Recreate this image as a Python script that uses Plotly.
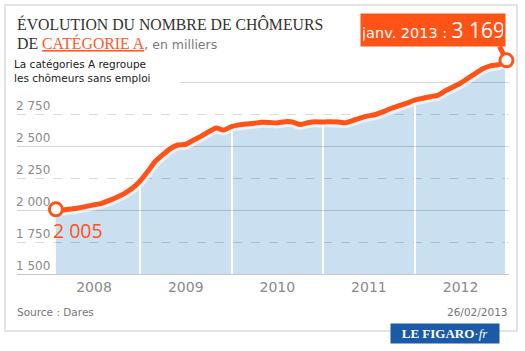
import plotly.graph_objects as go
import pandas as pd

# ---------------- data ----------------
months = pd.date_range("2008-02-01", "2013-01-01", freq="MS")
chomeurs = [2005, 2000, 2008, 2015, 2028, 2040, 2052, 2075, 2100, 2130,
            2170, 2225, 2300, 2375, 2430, 2478, 2508, 2512, 2545, 2575,
            2610, 2640, 2625, 2652, 2665, 2672, 2678, 2686, 2684, 2680,
            2690, 2688, 2668, 2682, 2690, 2687, 2690, 2688, 2682, 2700,
            2720, 2735, 2748, 2770, 2795, 2815, 2835, 2858, 2872, 2885,
            2895, 2930, 2960, 2990, 3030, 3070, 3105, 3128, 3135, 3169]
ytick_vals = [1500, 1750, 2000, 2250, 2500, 2750]
mois_fr = ["janv.", "févr.", "mars", "avr.", "mai", "juin", "juil.", "août",
           "sept.", "oct.", "nov.", "déc."]

W, H = 525, 351
ORANGE = "#ff5317"
FILL = "#cadff0"


def fmt(v):
    return f"{v:,}".replace(",", " ")


def px(x):
    return x / W


def py(y):
    return 1 - y / H


xdom = [px(17), px(509)]
ydom = [py(274), py(58)]
xrange_ = ["2007-08-30", "2013-01-11"]
yrange_ = [1500, 3187.5]

fig = go.Figure()

# area (subplot 1, bottom)
fig.add_trace(go.Scatter(x=months, y=chomeurs, mode="none", fill="tozeroy",
                         fillcolor=FILL, line=dict(shape="spline", smoothing=0.5),
                         xaxis="x", yaxis="y", hoverinfo="skip"))
# glow + line (subplot 2, on top of gridlines)
fig.add_trace(go.Scatter(x=months, y=chomeurs, mode="lines",
                         line=dict(color="rgba(255,255,255,0.6)", width=11, shape="spline", smoothing=0.5),
                         xaxis="x2", yaxis="y2", hoverinfo="skip"))
fig.add_trace(go.Scatter(x=months, y=chomeurs, mode="lines",
                         line=dict(color=ORANGE, width=5, shape="spline", smoothing=0.5),
                         xaxis="x2", yaxis="y2", hoverinfo="skip"))
fig.add_trace(go.Scatter(x=[months[0], months[-1]], y=[chomeurs[0], chomeurs[-1]],
                         mode="markers", cliponaxis=False,
                         marker=dict(size=13, color="white", line=dict(color=ORANGE, width=3)),
                         xaxis="x2", yaxis="y2", hoverinfo="skip"))

fig.update_layout(
    width=W, height=H, margin=dict(l=0, r=0, t=0, b=0),
    paper_bgcolor="white", plot_bgcolor="rgba(0,0,0,0)", showlegend=False,
    xaxis=dict(domain=xdom, range=xrange_, type="date", visible=False),
    yaxis=dict(domain=ydom, range=yrange_, visible=False),
    xaxis2=dict(domain=xdom, range=xrange_, type="date", anchor="y2",
                tick0="2008-01-01", dtick="M12", ticklabelmode="period", tickformat="%Y",
                showgrid=True, gridcolor="white", gridwidth=1.5, ticks="",
                showline=True, linecolor="#c8c8c8", linewidth=1,
                tickfont=dict(family="DejaVu Sans", size=14, color="#8a8a8a")),
    yaxis2=dict(domain=ydom, range=yrange_, anchor="x2", tick0=1500, dtick=500,
                showgrid=True, gridcolor="rgba(0,0,0,0.17)", gridwidth=1,
                showticklabels=False, zeroline=False, ticks="",
                minor=dict(tick0=1500, dtick=250, showgrid=True, griddash="dash",
                           gridcolor="rgba(0,0,0,0.14)", gridwidth=1)),
)

# frame
fig.add_shape(type="rect", xref="paper", yref="paper", x0=px(5), x1=px(517),
              y0=py(331), y1=py(5), line=dict(color="#e3e3e3", width=2), layer="below")

ann = []
# y-axis labels, placed on the y scale just above each gridline
for v in ytick_vals:
    ann.append(dict(xref="paper", yref="y2", x=px(15), y=v, xanchor="left", yanchor="bottom",
                    yshift=0, showarrow=False, text=fmt(v), borderpad=0,
                    font=dict(family="DejaVu Sans", size=12, color="#8a8a8a")))

TITLE_FONT = "Liberation Serif"
ann.append(dict(xref="paper", yref="paper", x=px(15), y=py(13), xanchor="left", yanchor="top",
                showarrow=False,
                text="ÉVOLUTION DU NOMBRE DE CHÔMEURS",
                font=dict(family=TITLE_FONT, size=15.8, color="#333333")))
ann.append(dict(xref="paper", yref="paper", x=px(15), y=py(32), xanchor="left", yanchor="top",
                showarrow=False,
                text=("DE <span style='color:#ff5a2a'><u>CATÉGORIE A</u></span>"
                      "<span style='font-family:DejaVu Sans;font-size:12.5px;color:#7a7a7a'>, en milliers</span>"),
                font=dict(family=TITLE_FONT, size=15.8, color="#333333")))
ann.append(dict(xref="paper", yref="paper", x=px(13), y=py(56), xanchor="left", yanchor="top",
                showarrow=False, align="left", bgcolor="white", width=166, height=28, borderpad=0,
                text="La catégories A regroupe<br>les chômeurs sans emploi",
                font=dict(family="DejaVu Sans", size=10.5, color="#222222")))
# start label
ann.append(dict(xref="x2", yref="y2", x=months[0], y=chomeurs[0], xanchor="left", yanchor="top",
                xshift=-5, yshift=-6, showarrow=False, text=fmt(chomeurs[0]),
                font=dict(family="Open Sans", size=19.5, color=ORANGE)))
# callout
last = months[-1]
ann.append(dict(xref="x2", yref="y2", x=last, y=chomeurs[-1], xanchor="right", yanchor="bottom",
                xshift=0, yshift=13, showarrow=False, bgcolor=ORANGE, borderpad=2,
                width=140, height=28,
                text=(f"<span style='font-family:DejaVu Sans;font-size:14.5px'>"
                      f"{mois_fr[last.month - 1]} {last.year} :</span> "
                      f"<span style='font-size:21px'>{fmt(chomeurs[-1])}</span>"),
                font=dict(family="Open Sans", size=16, color="white")))
ann.append(dict(xref="x2", yref="y2", x=last, y=chomeurs[-1], text=" ", font=dict(size=1),
                showarrow=True, arrowhead=0, arrowwidth=5, arrowcolor=ORANGE,
                ax=-8, ay=-16, standoff=7))
# footer
ann.append(dict(xref="paper", yref="paper", x=px(15), y=py(312), xanchor="left", yanchor="middle",
                showarrow=False, text="Source : Dares",
                font=dict(family="DejaVu Sans", size=10.5, color="#777777")))
ann.append(dict(xref="paper", yref="paper", x=px(510), y=py(312), xanchor="right", yanchor="middle",
                showarrow=False, text="26/02/2013",
                font=dict(family="DejaVu Sans", size=10.5, color="#777777")))
ann.append(dict(xref="paper", yref="paper", x=px(445), y=py(333), xanchor="center", yanchor="middle",
                showarrow=False, bgcolor="#1b5aa6", width=106, height=17, borderpad=1,
                text="<b>LE FIGARO</b>·<i>fr</i>",
                font=dict(family="Liberation Serif", size=13, color="white")))
fig.update_layout(annotations=ann)

fig.write_html("out.html")
